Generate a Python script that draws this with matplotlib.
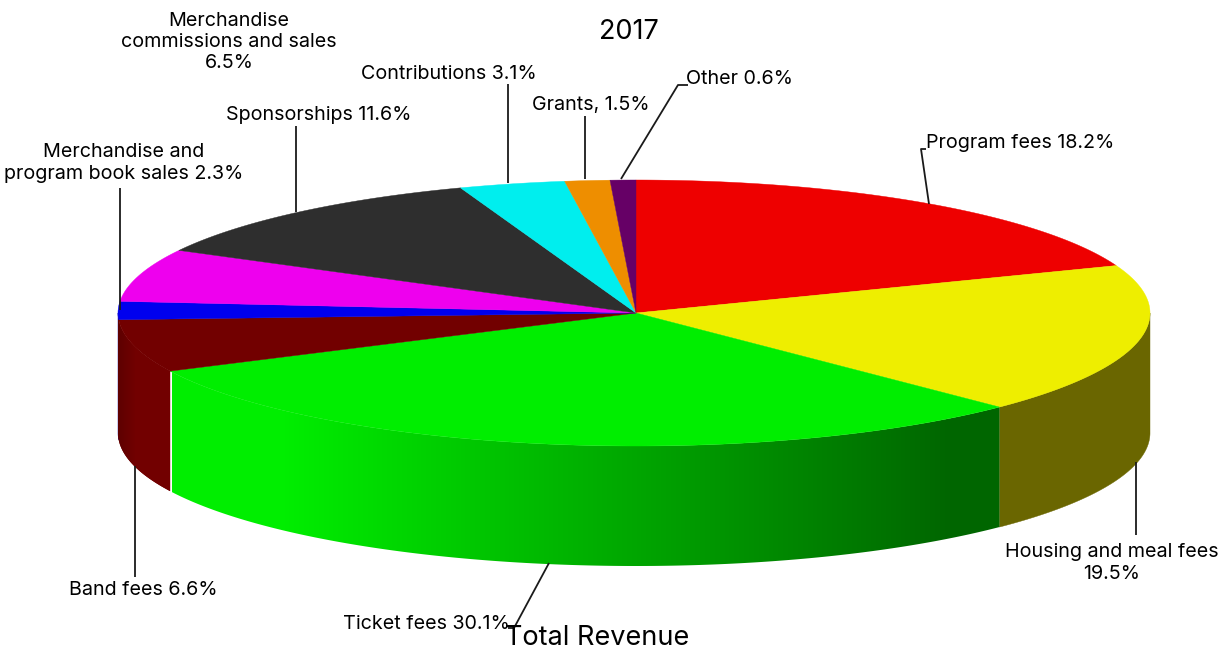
import numpy as np
import matplotlib
matplotlib.use("Agg")
import matplotlib.pyplot as plt
from matplotlib.patches import Polygon

plt.rcParams['font.family'] = ['Inter', 'DejaVu Sans']

# slice sizes as drawn in the picture (%), clockwise from 12 o'clock
slice_pct = [19.2, 18.3, 30.3, 6.4, 2.2, 6.4, 11.7, 3.3, 1.4, 0.8]
top_colors = ['#ee0000', '#eeee00', '#00ee00', '#720000', '#0000ee',
              '#ee00ee', '#2e2e2e', '#00eeee', '#ee8e00', '#660066']
side_colors = ['#660000', '#6a6600', None, None, '#0000aa',
               '#660066', '#1a1a1a', '#006666', '#663d00', '#330033']

# label text, anchor x, anchor y
labels = [
    ("Program fees 18.2%", 926, 143, 'left'),
    ("Housing and meal fees\n19.5%", 1112, 563, 'center'),
    ("Ticket fees 30.1%", 343, 624, 'left'),
    ("Band fees 6.6%", 143, 590, 'center'),
    ("Merchandise and\nprogram book sales 2.3%", 124, 163, 'center'),
    ("Merchandise\ncommissions and sales\n6.5%", 229, 42, 'center'),
    ("Sponsorships 11.6%", 319, 115, 'center'),
    ("Contributions 3.1%", 449, 74, 'center'),
    ("Grants, 1.5%", 591, 105, 'center'),
    ("Other 0.6%", 739, 79, 'center'),
]

# leader lines in pixels
leaders = [
    ([929, 921, 926], [204, 149, 149]),
    ([1136, 1136], [462, 535]),
    ([549, 514, 508], [563, 628, 628]),
    ([135, 135], [466, 577]),
    ([120, 120], [310, 188]),
    ([296, 296], [212, 126]),
    ([508, 508], [183, 84]),
    ([585, 585], [179, 116]),
    ([621, 678, 688], [179, 85, 85]),
]

CX, CY = 636, 313
RX_RIGHT, RX_LEFT, RY = 514, 518, 133
DEPTH = 120


def arc(a0, a1, dy=0):
    """Points on the pie rim between two angles in degrees."""
    t = np.radians(np.linspace(a0, a1, max(int(abs(a1 - a0) * 4), 2)))
    c = np.cos(t)
    x = CX + np.where(c > 0, RX_RIGHT, RX_LEFT) * c
    y = CY - RY * np.sin(t) + dy
    return np.column_stack([x, y])


def side_poly(a0, a1):
    return np.vstack([arc(a0, a1), arc(a1, a0, DEPTH)])


fig = plt.figure(figsize=(12.22, 6.54), dpi=100)
ax = fig.add_axes([0, 0, 1, 1])
ax.axis('off')

edges = 90 - np.cumsum([0] + slice_pct) * 3.6

# walls first, only the part facing the viewer (angles 0 to -180)
for i, col in enumerate(side_colors):
    a0, a1 = edges[i], edges[i + 1]
    lo, hi = max(a1, -180), min(a0, 0)
    wall_lo, wall_hi = a1, a0
    if a0 > -180 and a1 < -180:
        pass
    if hi <= lo and not (a1 < -180 and a0 < 0):
        continue
    if a0 > 0 and a1 >= 0:
        continue
    if a1 >= 180 - 360 and a0 > 0 and a1 > 0:
        continue
    start, end = min(a0, 0), max(a1, -180)
    if start <= end:
        continue
    if col is None:
        continue
    ax.add_patch(Polygon(side_poly(start, end), closed=True, fc=col, ec=col, lw=0.3, zorder=1))

# green wall shades from bright on the left to dark on the right
green_wall = Polygon(side_poly(edges[2], edges[3]), closed=True, fc='none', ec='none', zorder=2)
ax.add_patch(green_wall)
g = np.interp(np.arange(172, 1001), [172, 285, 950, 1000], [238, 238, 102, 102])
img = np.zeros((1, g.size, 3), dtype=np.uint8)
img[..., 1] = g.astype(np.uint8)
im = ax.imshow(img, extent=[172, 1001, 567, 370], aspect='auto', interpolation='bilinear', zorder=2)
im.set_clip_path(green_wall)

# dark red wall goes a little darker at the far left
red_wall = Polygon(side_poly(edges[3], -180), closed=True, fc='#720000', ec='none', zorder=2)
ax.add_patch(red_wall)
r = np.interp(np.arange(118, 173), [118, 135, 172], [94, 114, 114])
img2 = np.zeros((1, r.size, 3), dtype=np.uint8)
img2[..., 0] = r.astype(np.uint8)
im2 = ax.imshow(img2, extent=[118, 173, 495, 310], aspect='auto', interpolation='bilinear', zorder=2)
im2.set_clip_path(red_wall)

# top face
for i, col in enumerate(top_colors):
    pts = np.vstack([[CX, CY], arc(edges[i], edges[i + 1])])
    ax.add_patch(Polygon(pts, closed=True, fc=col, ec=col, lw=0.3, zorder=3))

for xs, ys in leaders:
    ax.plot(xs, ys, color='#1a1a1a', lw=1.3, zorder=4, solid_capstyle='butt')

for txt, x, y, ha in labels:
    ax.text(x, y, txt, ha=ha, va='center', fontsize=14.2, color='black',
            linespacing=1.25, zorder=5)

ax.text(629, 32, "2017", ha='center', va='center', fontsize=19.5, color='black', zorder=5)
ax.text(597, 638, "Total Revenue", ha='center', va='center', fontsize=19.5, color='black', zorder=5)

ax.set_xlim(0, 1222)
ax.set_ylim(654, 0)
fig.savefig("out.png", dpi=100)
